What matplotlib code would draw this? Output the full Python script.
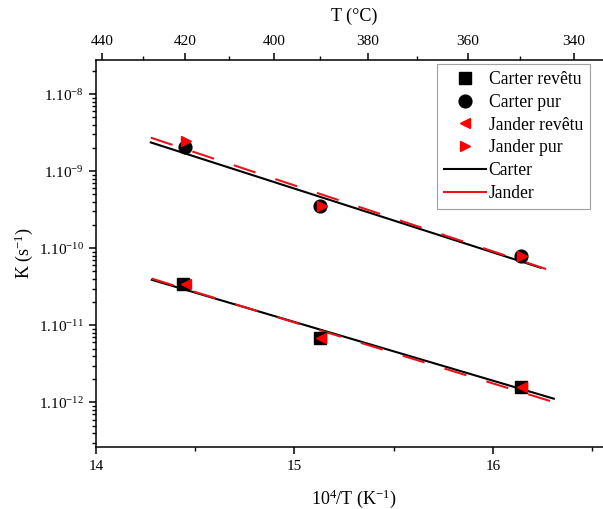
import matplotlib
matplotlib.use("Agg")
import matplotlib.pyplot as plt
import numpy as np
from matplotlib.lines import Line2D
from matplotlib.ticker import FixedLocator, NullFormatter, FuncFormatter

plt.rcParams['font.family'] = ['Liberation Serif', 'DejaVu Serif']
plt.rcParams['mathtext.fontset'] = 'custom'
plt.rcParams['mathtext.rm'] = 'Liberation Serif'
plt.rcParams['mathtext.it'] = 'Liberation Serif:italic'
plt.rcParams['mathtext.bf'] = 'Liberation Serif:bold'

# ---- data ----
carter_revetu_x = [14.44, 15.13, 16.14]
carter_revetu_y = [3.4e-11, 6.8e-12, 1.6e-12]
carter_pur_x = [14.45, 15.13, 16.14]
carter_pur_y = [2.05e-9, 3.5e-10, 7.9e-11]
jander_revetu_x = [14.455, 15.135, 16.145]
jander_revetu_y = [3.45e-11, 6.9e-12, 1.58e-12]
jander_pur_x = [14.455, 15.14, 16.145]
jander_pur_y = [2.45e-9, 3.5e-10, 7.9e-11]

# fitted lines (endpoints)
carter_pur_fit_x = [14.276, 16.24]
carter_pur_fit_y = [2.36e-9, 5.6e-11]
jander_pur_fit_x = [14.276, 16.31]
jander_pur_fit_y = [2.72e-9, 4.95e-11]
carter_rev_fit_x = [14.281, 16.307]
carter_rev_fit_y = [3.9e-11, 1.12e-12]
jander_rev_fit_x = [14.281, 16.307]
jander_rev_fit_y = [4.04e-11, 1.01e-12]

top_ticks_T = [440, 420, 400, 380, 360, 340]
top_minor_T = [430, 410, 390, 370, 350]
bottom_ticks = [14, 15, 16]
bottom_minor = [14.5, 15.5, 16.5]
y_exponents = [-12, -11, -10, -9, -8]

fig = plt.figure(figsize=(6.03, 5.09), dpi=100)
ax = fig.add_axes([96/603, (509-446.5)/509, 516/603, (446.5-60)/509])

lw = 1.5
dash = (0, (11, 10))
ax.plot(carter_pur_fit_x, carter_pur_fit_y, color='black', lw=lw, zorder=2)
ax.plot(carter_rev_fit_x, carter_rev_fit_y, color='black', lw=lw, zorder=2)
ax.plot(jander_pur_fit_x, jander_pur_fit_y, color='#e8141c', lw=lw, ls=dash, zorder=3)
ax.plot(jander_rev_fit_x, jander_rev_fit_y, color='#e8141c', lw=lw, ls=dash, zorder=3)

ax.plot(carter_revetu_x, carter_revetu_y, 's', color='black', ms=8, ls='none', zorder=4)
ax.plot(carter_pur_x, carter_pur_y, 'o', color='black', ms=9.2, ls='none', zorder=4)
ax.plot(jander_revetu_x, jander_revetu_y, '<', color='#ff0000', ms=6.5, ls='none', zorder=5)
ax.plot(jander_pur_x, jander_pur_y, '>', color='#ff0000', ms=6.5, ls='none', zorder=5)

ax.set_yscale('log')
ax.set_xlim(14.0, 16.6)
ax.set_ylim(10**-12.571, 10**-7.558)

ax.xaxis.set_major_locator(FixedLocator(bottom_ticks))
ax.xaxis.set_minor_locator(FixedLocator(bottom_minor))
ax.set_xticklabels([str(t) for t in bottom_ticks])
major_y = [10.0**e for e in y_exponents]
minor_y = [m * 10.0**e for e in [-13] + y_exponents for m in range(2, 10)]
minor_y = [v for v in minor_y if 10**-12.571 <= v <= 10**-7.558]
ax.yaxis.set_major_locator(FixedLocator(major_y))
ax.yaxis.set_minor_locator(FixedLocator(minor_y))
ax.yaxis.set_minor_formatter(NullFormatter())
ax.yaxis.set_major_formatter(FuncFormatter(lambda v, p: r'$\mathregular{1.10^{%d}}$' % int(round(np.log10(v)))))

for s in ['right', 'top']:
    ax.spines[s].set_visible(False)
for s in ['left', 'bottom']:
    ax.spines[s].set_linewidth(1.1)

ax.tick_params(which='major', direction='out', length=5, width=1.1, labelsize=11, top=False, right=False)
ax.tick_params(which='minor', direction='out', length=3, width=1.0, top=False, right=False)
ax.tick_params(axis='x', pad=5)

ax.set_xlabel(r'$\mathregular{10^4/T\ (K^{-1})}$', fontsize=13, labelpad=10)
ax.set_ylabel(r'$\mathregular{K\ (s^{-1})}$', fontsize=13, labelpad=3)

# top axis (temperature)
u_left = (96 + 2793.8) / 206.5
u_right = (612 + 2793.8) / 206.5
ax2 = ax.twiny()
ax2.set_xlim(u_left, u_right)
ax2.xaxis.set_major_locator(FixedLocator([1e4 / (t + 273.15) for t in top_ticks_T]))
ax2.xaxis.set_minor_locator(FixedLocator([1e4 / (t + 273.15) for t in top_minor_T]))
ax2.set_xticklabels([str(t) for t in top_ticks_T])
for s in ['left', 'right', 'bottom']:
    ax2.spines[s].set_visible(False)
ax2.spines['top'].set_linewidth(1.1)
ax2.tick_params(axis='x', which='major', direction='out', length=5, width=1.1, labelsize=11, pad=4)
ax2.tick_params(axis='x', which='minor', direction='out', length=3, width=1.0)
ax2.set_xlabel('T (°C)', fontsize=13, labelpad=10)

handles = [
    Line2D([], [], marker='s', color='black', ls='none', ms=8),
    Line2D([], [], marker='o', color='black', ls='none', ms=9.2),
    Line2D([], [], marker='<', color='#ff0000', ls='none', ms=6.5),
    Line2D([], [], marker='>', color='#ff0000', ls='none', ms=6.5),
    Line2D([], [], color='black', lw=lw),
    Line2D([], [], color='#e8141c', lw=lw),
]
labels = ['Carter revêtu', 'Carter pur', 'Jander revêtu', 'Jander pur', 'Carter', 'Jander']
leg = ax2.legend(handles, labels, loc='upper left', bbox_to_anchor=((437-96)/516, (446.5-64.3)/386.5),
                 fontsize=12.7, frameon=True, fancybox=False, edgecolor='#888888',
                 handlelength=2.4, handletextpad=0.15, labelspacing=0.33, borderpad=0.38,
                 borderaxespad=0)
leg.get_frame().set_linewidth(0.8)

fig.savefig('out.png', dpi=100)
